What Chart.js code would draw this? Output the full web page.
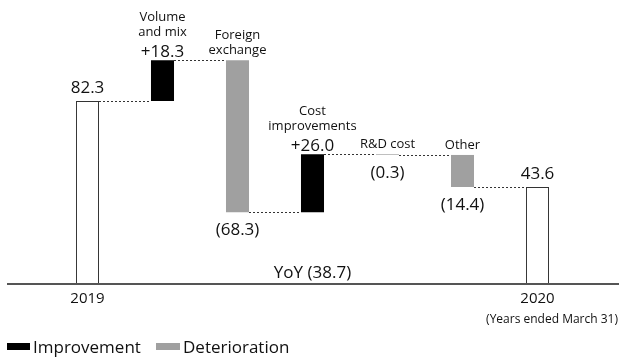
<!DOCTYPE html>
<html>
<head>
<meta charset="utf-8">
<script src="https://cdn.jsdelivr.net/npm/chart.js@4.4.1/dist/chart.umd.min.js"></script>
<style>
  html, body { margin: 0; padding: 0; background: #fff; }
  #wrap { width: 619px; height: 358px; position: relative; }
</style>
</head>
<body>
<div id="wrap"><canvas id="c" width="619" height="358"></canvas></div>
<script>
// Operating income bridge, billions of yen
const categories = ['2019', 'Volume and mix', 'Foreign exchange', 'Cost improvements', 'R&D cost', 'Other', '2020'];
const nameLines = [[], ['Volume', 'and mix'], ['Foreign', 'exchange'], ['Cost', 'improvements'], ['R&D cost'], ['Other'], []];
const startTotal = 82.3;
const changes = [18.3, -68.3, 26.0, -0.3, -14.4];
const endTotal = 43.6;
const yoyChange = -38.7;
const tickLabels = ['2019', '', '', '', '', '', '2020'];
const periodNote = '(Years ended March 31)';
const legendLabels = ['Improvement', 'Deterioration'];

const FONT = "'Open Sans', 'Liberation Sans', sans-serif";
const COL_UP = '#000000';
const COL_DOWN = '#a0a0a0';
const INK = '#111111';

// Floating [low, high] ranges built from the running total
const ranges = [];
const values = [startTotal];
const kinds = ['total'];
ranges.push([0, startTotal]);
let run = startTotal;
changes.forEach(v => {
  const next = Math.round((run + v) * 10) / 10;
  ranges.push([Math.min(run, next), Math.max(run, next)]);
  values.push(v);
  kinds.push(v >= 0 ? 'up' : 'down');
  run = next;
});
ranges.push([0, endTotal]);
values.push(endTotal);
kinds.push('total');

// level each connector sits at (running total after each bar)
const levels = [];
run = startTotal;
levels.push(run);
changes.forEach(v => { run = Math.round((run + v) * 10) / 10; levels.push(run); });

function fmt(v, kind) {
  if (kind === 'total') return v.toFixed(1);
  if (v >= 0) return '+' + v.toFixed(1);
  return '(' + Math.abs(v).toFixed(1) + ')';
}

const annotate = {
  id: 'annotate',
  afterDatasetsDraw(chart) {
    const ctx = chart.ctx;
    const meta = chart.getDatasetMeta(0);
    const y = chart.scales.y;
    const x = chart.scales.x;
    ctx.save();

    // dotted connectors between neighbouring bars
    ctx.strokeStyle = '#333';
    ctx.lineWidth = 1;
    ctx.setLineDash([2, 2]);
    for (let i = 0; i < meta.data.length - 1; i++) {
      const a = meta.data[i], b = meta.data[i + 1];
      const py = Math.round(y.getPixelForValue(levels[i])) + 0.5;
      ctx.beginPath();
      ctx.moveTo(a.x + a.width / 2, py);
      ctx.lineTo(b.x - b.width / 2, py);
      ctx.stroke();
    }
    ctx.setLineDash([]);

    // baseline
    const y0 = y.getPixelForValue(0);
    ctx.strokeStyle = '#555';
    ctx.lineWidth = 2;
    ctx.beginPath();
    ctx.moveTo(7, y0);
    ctx.lineTo(chart.width, y0);
    ctx.stroke();

    ctx.fillStyle = INK;
    ctx.textAlign = 'center';
    meta.data.forEach((bar, i) => {
      const kind = kinds[i];
      const top = Math.min(bar.y, bar.base);
      const bottom = Math.max(bar.y, bar.base);
      const label = fmt(values[i], kind);
      ctx.textBaseline = 'alphabetic';
      let nameBase;
      ctx.font = '17px ' + FONT;
      if (kind === 'total') {
        ctx.fillText(label, bar.x, top - 8);
      } else if (kind === 'up') {
        ctx.fillText(label, bar.x, top - 3);
        nameBase = top - 3 - 21;
      } else {
        ctx.fillText(label, bar.x, bottom + 23);
        nameBase = top - 6;
      }
      const lines = nameLines[i];
      if (lines.length) {
        ctx.font = '13px ' + FONT;
        for (let k = lines.length - 1, j = 0; k >= 0; k--, j++) {
          ctx.fillText(lines[k], bar.x, nameBase - j * 15);
        }
      }
      if (tickLabels[i]) {
        ctx.font = '15px ' + FONT;
        ctx.fillText(tickLabels[i], x.getPixelForValue(i), y0 + 19);
      }
    });

    // year-on-year change
    ctx.font = '17px ' + FONT;
    ctx.fillText('YoY ' + fmt(yoyChange, 'down'), x.getPixelForValue(3), y0 - 6);

    // period note
    ctx.font = '12px ' + FONT;
    ctx.textAlign = 'right';
    ctx.fillText(periodNote, chart.width - 1, y0 + 39);

    // legend
    ctx.textAlign = 'left';
    ctx.font = '17px ' + FONT;
    const ly = 343;
    ctx.fillStyle = COL_UP;
    ctx.fillRect(7, ly, 23, 7);
    ctx.fillStyle = INK;
    ctx.fillText(legendLabels[0], 33, 353);
    ctx.fillStyle = COL_DOWN;
    ctx.fillRect(156, ly, 24, 7);
    ctx.fillStyle = INK;
    ctx.fillText(legendLabels[1], 183, 353);

    ctx.restore();
  }
};

new Chart(document.getElementById('c'), {
  type: 'bar',
  data: {
    labels: categories,
    datasets: [{
      data: ranges,
      backgroundColor: kinds.map(k => k === 'total' ? '#ffffff' : (k === 'up' ? COL_UP : COL_DOWN)),
      borderColor: kinds.map(k => k === 'total' ? '#333333' : 'rgba(0,0,0,0)'),
      borderWidth: kinds.map(k => k === 'total' ? 1 : 0),
      borderSkipped: false,
      barPercentage: 0.307,
      categoryPercentage: 1
    }]
  },
  options: {
    responsive: false,
    animation: false,
    events: [],
    layout: { padding: { left: 50, right: 44, top: 17, bottom: 74 } },
    plugins: { legend: { display: false }, tooltip: { enabled: false } },
    scales: {
      x: { display: false },
      y: { display: false, min: 0, max: 120 }
    }
  },
  plugins: [annotate]
});
</script>
</body>
</html>
